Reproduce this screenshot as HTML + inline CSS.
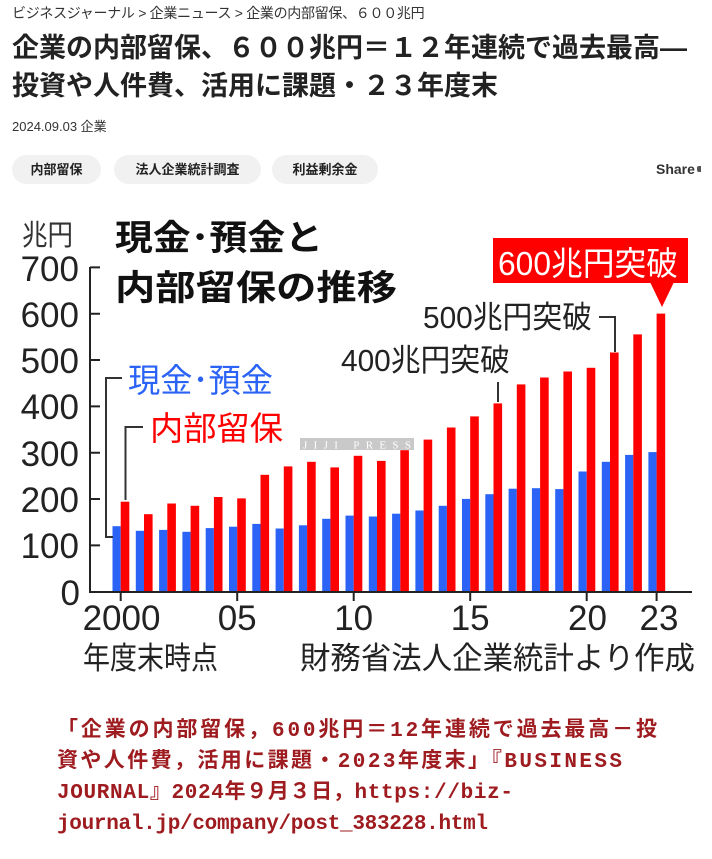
<!DOCTYPE html>
<html><head><meta charset="utf-8">
<style>
html,body{margin:0;padding:0;background:#fff;}
body{width:712px;height:859px;position:relative;overflow:hidden;font-family:"Liberation Sans","Noto Sans CJK JP",sans-serif;color:#222;}
.a{position:absolute;white-space:nowrap;}
.crumb{left:12px;top:3px;font-size:14px;line-height:20px;color:#333;letter-spacing:-0.3px;}
.t{left:12px;font-size:27px;font-weight:bold;line-height:38px;color:#222;}
.date{left:12px;top:117px;font-size:13px;line-height:20px;color:#333;}
.pill{top:155px;height:29px;line-height:29px;border-radius:15px;background:#f1f1f1;font-size:13px;font-weight:bold;text-align:center;color:#222;}
.share{left:656px;top:159px;font-size:14px;font-weight:bold;line-height:20px;color:#333;}
</style></head>
<body>
<div class="a crumb">ビジネスジャーナル &gt; 企業ニュース &gt; 企業の内部留保、６００兆円</div>
<div class="a t" style="top:29px">企業の内部留保、６００兆円＝１２年連続で過去最高―</div>
<div class="a t" style="top:67px">投資や人件費、活用に課題・２３年度末</div>
<div class="a date">2024.09.03 企業</div>
<div class="a pill" style="left:12px;width:89px">内部留保</div>
<div class="a pill" style="left:114px;width:147px">法人企業統計調査</div>
<div class="a pill" style="left:272px;width:106px">利益剰余金</div>
<div class="a share">Share</div>
<div class="a" style="left:697px;top:166px;width:4px;height:6px;background:#555;border-radius:2px 0 0 2px"></div>

<svg class="a" style="left:0;top:0" width="712" height="859" viewBox="0 0 712 859" xmlns="http://www.w3.org/2000/svg">
<g font-family="Liberation Sans, Noto Sans CJK JP, sans-serif">
<text x="22" y="245" font-size="29" fill="#333" textLength="51" lengthAdjust="spacingAndGlyphs">兆円</text>
<text x="115" y="250" font-size="35" font-weight="bold" fill="#111" textLength="208" lengthAdjust="spacingAndGlyphs">現金･預金と</text>
<text x="115" y="300" font-size="35" font-weight="bold" fill="#111" textLength="282" lengthAdjust="spacingAndGlyphs">内部留保の推移</text>
<g font-size="35" fill="#222" text-anchor="end">
<text x="79" y="281">700</text>
<text x="79" y="327">600</text>
<text x="79" y="373">500</text>
<text x="79" y="419">400</text>
<text x="79" y="466">300</text>
<text x="79" y="512">200</text>
<text x="79" y="558">100</text>
<text x="80" y="605">0</text>
</g>
<rect x="300" y="438" width="114" height="12" fill="#c9c9c9"/>
<text x="303" y="448.5" font-size="11" fill="#fff" textLength="108" lengthAdjust="spacing" font-family="Liberation Serif, serif">JIJI PRESS</text>
<g fill="#2a63f5">
<rect x="112.5" y="526.2" width="8.2" height="65.8"/>
<rect x="135.8" y="530.8" width="8.2" height="61.2"/>
<rect x="159.1" y="529.9" width="8.2" height="62.1"/>
<rect x="182.4" y="531.8" width="8.2" height="60.2"/>
<rect x="205.7" y="528.1" width="8.2" height="63.9"/>
<rect x="229.0" y="526.7" width="8.2" height="65.3"/>
<rect x="252.3" y="523.9" width="8.2" height="68.1"/>
<rect x="275.6" y="528.5" width="8.2" height="63.5"/>
<rect x="298.9" y="525.3" width="8.2" height="66.7"/>
<rect x="322.2" y="518.8" width="8.2" height="73.2"/>
<rect x="345.5" y="515.6" width="8.2" height="76.4"/>
<rect x="368.8" y="516.5" width="8.2" height="75.5"/>
<rect x="392.1" y="513.7" width="8.2" height="78.3"/>
<rect x="415.4" y="510.5" width="8.2" height="81.5"/>
<rect x="438.7" y="505.8" width="8.2" height="86.2"/>
<rect x="462.0" y="498.9" width="8.2" height="93.1"/>
<rect x="485.3" y="494.2" width="8.2" height="97.8"/>
<rect x="508.6" y="488.7" width="8.2" height="103.3"/>
<rect x="531.9" y="488.2" width="8.2" height="103.8"/>
<rect x="555.2" y="489.1" width="8.2" height="102.9"/>
<rect x="578.5" y="471.5" width="8.2" height="120.5"/>
<rect x="601.8" y="461.8" width="8.2" height="130.2"/>
<rect x="625.1" y="454.9" width="8.2" height="137.1"/>
<rect x="648.4" y="452.1" width="8.2" height="139.9"/>
</g>
<g fill="#ff0000">
<rect x="120.7" y="501.7" width="8.6" height="90.3"/>
<rect x="144.0" y="514.2" width="8.6" height="77.8"/>
<rect x="167.3" y="503.5" width="8.6" height="88.5"/>
<rect x="190.6" y="505.8" width="8.6" height="86.2"/>
<rect x="213.9" y="497.0" width="8.6" height="95.0"/>
<rect x="237.2" y="498.4" width="8.6" height="93.6"/>
<rect x="260.5" y="474.8" width="8.6" height="117.2"/>
<rect x="283.8" y="466.4" width="8.6" height="125.6"/>
<rect x="307.1" y="461.8" width="8.6" height="130.2"/>
<rect x="330.4" y="467.4" width="8.6" height="124.6"/>
<rect x="353.7" y="455.8" width="8.6" height="136.2"/>
<rect x="377.0" y="460.9" width="8.6" height="131.1"/>
<rect x="400.3" y="450.2" width="8.6" height="141.8"/>
<rect x="423.6" y="439.6" width="8.6" height="152.4"/>
<rect x="446.9" y="427.5" width="8.6" height="164.5"/>
<rect x="470.2" y="416.4" width="8.6" height="175.6"/>
<rect x="493.5" y="403.4" width="8.6" height="188.6"/>
<rect x="516.8" y="384.4" width="8.6" height="207.6"/>
<rect x="540.1" y="377.5" width="8.6" height="214.5"/>
<rect x="563.4" y="371.5" width="8.6" height="220.5"/>
<rect x="586.7" y="367.8" width="8.6" height="224.2"/>
<rect x="610.0" y="352.5" width="8.6" height="239.5"/>
<rect x="633.3" y="334.4" width="8.6" height="257.6"/>
<rect x="656.6" y="313.6" width="8.6" height="278.4"/>
</g>
<g stroke="#222" stroke-width="2" fill="none">
<path d="M90 267 V592 H692"/>
<path d="M90 267.4 H100 M90 313.7 H100 M90 360 H100 M90 406.4 H100 M90 452.7 H100 M90 499 H100 M90 545.4 H100"/>
<path d="M120.7 592 V601 M237.2 592 V601 M353.7 592 V601 M470.2 592 V601 M586.7 592 V601 M656.6 592 V601"/>
</g>
<text x="128" y="392" font-size="33" fill="#2a63f5" textLength="145" lengthAdjust="spacingAndGlyphs">現金･預金</text>
<text x="150" y="440" font-size="33" fill="#ff0000" textLength="133" lengthAdjust="spacingAndGlyphs">内部留保</text>
<g stroke="#333" stroke-width="2" fill="none">
<polyline points="122,378 106,378 106,537 113,537"/>
<polyline points="143,427 125.5,427 125.5,500"/>
<polyline points="599,317 615,317 615,352"/>
<line x1="498" y1="382" x2="498" y2="402"/>
</g>
<text x="423" y="328" font-size="31" fill="#222" textLength="169" lengthAdjust="spacingAndGlyphs">500兆円突破</text>
<text x="341" y="371" font-size="31" fill="#222" textLength="169" lengthAdjust="spacingAndGlyphs">400兆円突破</text>
<rect x="493" y="238" width="195" height="45" fill="#ff0000"/>
<polygon points="650,282 674,282 662,307" fill="#ff0000"/>
<text x="498" y="275" font-size="33" fill="#fff" textLength="180" lengthAdjust="spacingAndGlyphs">600兆円突破</text>
<g font-size="35" fill="#222" text-anchor="middle">
<text x="121.5" y="630">2000</text>
<text x="237.2" y="630">05</text>
<text x="353.7" y="630">10</text>
<text x="470.2" y="630">15</text>
<text x="587.5" y="630">20</text>
<text x="659" y="630">23</text>
</g>
<text x="83" y="669" font-size="31" fill="#222" textLength="135" lengthAdjust="spacingAndGlyphs">年度末時点</text>
<text x="300" y="669" font-size="31" fill="#222" textLength="395" lengthAdjust="spacingAndGlyphs">財務省法人企業統計より作成</text>
</g>
<g font-family="Liberation Mono, Noto Sans CJK JP, monospace" font-size="21" font-weight="bold" fill="#9e1c20">
<text x="57" y="736" textLength="600" lengthAdjust="spacing">「企業の内部留保，600兆円＝12年連続で過去最高－投</text>
<text x="57" y="767" textLength="565" lengthAdjust="spacing">資や人件費，活用に課題・2023年度末」『BUSINESS</text>
<text x="57" y="798" textLength="456" lengthAdjust="spacing">JOURNAL』2024年９月３日，https://biz-</text>
<text x="57" y="829" textLength="431" lengthAdjust="spacing">journal.jp/company/post_383228.html</text>
</g>
</svg>
</body></html>
